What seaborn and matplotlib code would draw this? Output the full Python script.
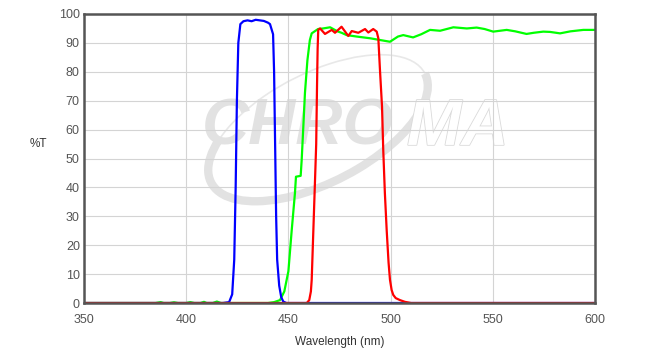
import numpy as np
import pandas as pd
import matplotlib
matplotlib.use("Agg")
import matplotlib.pyplot as plt
import seaborn as sns
from matplotlib.patches import Arc
from matplotlib.transforms import IdentityTransform
import matplotlib.patheffects as pe

# ---- data ----
blue_wl = [350, 418, 421, 422.5, 423.5, 424.2, 424.8, 425.5, 426.5, 428, 430, 432, 434, 436,
           438, 440, 441, 442.5, 443, 443.5, 444, 444.5, 445.5, 446.5, 447.5, 449, 600]
blue_t = [0, 0, 0.3, 3, 15, 40, 70, 90, 96.5, 97.5, 97.8, 97.5, 98, 97.8,
          97.6, 97, 96.5, 93, 80, 55, 30, 15, 6, 2, 0.5, 0, 0]

green_wl = [350, 385, 387.5, 389, 392, 394, 396, 400, 402, 404, 407, 408.7, 410, 413, 415, 417,
            440, 443, 445.9, 448, 450, 451.6, 453.2, 453.7, 456, 456.5, 457.3, 458.1, 459.3,
            460.5, 461.4, 464.5, 467, 470.4, 474, 476, 478.5, 483.4, 490, 494.8, 499.7, 503.6,
            506.2, 511, 515, 519.3, 524.2, 530.7, 537.3, 542.1, 546, 550.2, 556.8, 561, 566.5,
            570, 574.7, 578, 582.9, 588, 594.3, 600]
green_t = [0, 0, 0.3, 0, 0, 0.25, 0, 0, 0.3, 0, 0, 0.4, 0, 0, 0.5, 0,
           0, 0.3, 1, 4, 11, 25, 38, 43.7, 44, 49.5, 61, 72.7, 84,
           91, 93.3, 94.8, 95, 95.4, 94, 93.5, 92.7, 92.2, 91.6, 91, 90.4, 92.2,
           92.7, 91.9, 93, 94.5, 94.2, 95.4, 95, 95.3, 94.8, 93.9, 94.5, 94, 93.1,
           93.5, 93.9, 93.8, 93.3, 94, 94.5, 94.5]

red_wl = [350, 459, 460.2, 461, 461.4, 462.2, 463, 463.6, 464, 464.3, 464.6, 465.5, 467.9,
          471.2, 472.8, 476, 479.3, 481, 484.2, 487.5, 489.1, 491.5, 493.2, 494, 494.8,
          495.8, 496.4, 497.2, 498.1, 499, 499.7, 500.5, 501.3, 502.5, 504.6, 507, 510, 600]
red_t = [0, 0, 1, 4, 8, 25, 42, 55, 75, 88, 94.5, 95, 93.1,
         94.5, 93.5, 95.6, 92.4, 94.1, 93.5, 94.8, 93.6, 94.8, 93.9, 91.6, 80.6,
         68, 53, 38, 25, 14, 8, 4.5, 2.8, 1.7, 1, 0.4, 0, 0]

x_ticks = [350, 400, 450, 500, 550, 600]
y_ticks = [0, 10, 20, 30, 40, 50, 60, 70, 80, 90, 100]

df = pd.concat([
    pd.DataFrame({"wl": green_wl, "T": green_t, "s": "green"}),
    pd.DataFrame({"wl": blue_wl, "T": blue_t, "s": "blue"}),
    pd.DataFrame({"wl": red_wl, "T": red_t, "s": "red"}),
], ignore_index=True)

sns.set_style("white")
plt.rcParams["font.family"] = ["Liberation Sans", "DejaVu Sans"]

fig = plt.figure(figsize=(6.52, 3.54), dpi=100)
ax = fig.add_axes([84 / 652, 51 / 354, 511 / 652, 289 / 354])

sns.lineplot(data=df, x="wl", y="T", hue="s", estimator=None, sort=False,
             palette={"green": "#00ff00", "blue": "#0000ff", "red": "#ff0000"},
             linewidth=1.6, legend=False, ax=ax, zorder=3)

ax.set_xlim(350, 600)
ax.set_ylim(0, 100)
ax.set_xticks(x_ticks)
ax.set_yticks(y_ticks)
ax.tick_params(axis="both", length=0, labelsize=9, labelcolor="#555555")
ax.tick_params(axis="x", pad=8)
ax.tick_params(axis="y", pad=3)
ax.grid(True, color="#d4d4d4", linewidth=0.8)
ax.set_axisbelow(True)
for sp in ax.spines.values():
    sp.set_color("#555555")
    sp.set_linewidth(1.8)
    sp.set_zorder(5)

ax.set_xlabel("Wavelength (nm)", fontsize=8.5, color="#333333", labelpad=7)
ax.set_ylabel("%T", fontsize=8.5, color="#333333", rotation=0, labelpad=0)
ax.yaxis.set_label_coords(-0.09, 0.53)

# watermark
wm = "#e2e2e2"
ax.text(0.231, 0.547, "CHRO", transform=ax.transAxes, fontsize=47, fontweight="bold",
        fontstyle="italic", color=wm, zorder=0.2, ha="left", va="baseline")
ax.text(0.632, 0.547, "MA", transform=ax.transAxes, fontsize=47, fontweight="bold",
        fontstyle="italic", color="white", zorder=0.2, ha="left", va="baseline",
        path_effects=[pe.withStroke(linewidth=1.2, foreground="#dadada")])
cx, cy = 318, 354 - 128
ax.add_artist(Arc((cx, cy), 240, 110, angle=27, theta1=160, theta2=360,
                  transform=IdentityTransform(), color=wm, linewidth=6, zorder=0.1))
ax.add_artist(Arc((cx, cy), 240, 110, angle=27, theta1=0, theta2=160,
                  transform=IdentityTransform(), color="#e8e8e8", linewidth=1.2, zorder=0.1))

fig.savefig("out.png", dpi=100, facecolor="white")
